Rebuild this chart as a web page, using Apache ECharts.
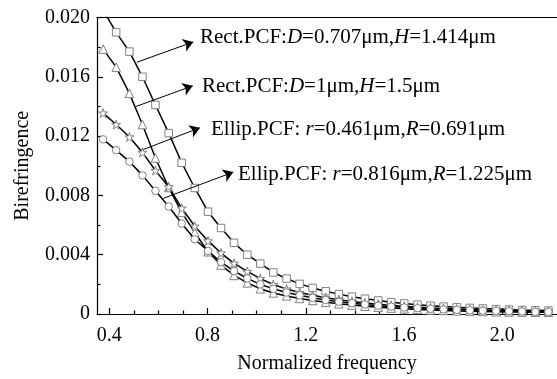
<!DOCTYPE html>
<html>
<head>
<meta charset="utf-8">
<script src="https://cdn.jsdelivr.net/npm/echarts@6/dist/echarts.min.js"></script>
<style>html,body{margin:0;padding:0;background:#fff;}#c{width:557px;height:379px;}</style>
</head>
<body>
<div id="c"></div>
<script>
const xValues = [0.375, 0.428, 0.482, 0.535, 0.588, 0.642, 0.695, 0.748, 0.802, 0.855, 0.908, 0.962, 1.015, 1.068, 1.122, 1.175, 1.228, 1.281, 1.335, 1.388, 1.441, 1.495, 1.548, 1.601, 1.655, 1.708, 1.761, 1.815, 1.868, 1.921, 1.975, 2.028, 2.081, 2.135, 2.188];
const rectA = [0.0205, 0.0190, 0.0177, 0.0160, 0.0141, 0.0122, 0.0102, 0.0085, 0.0069, 0.0058, 0.0048, 0.0040, 0.0034, 0.0028, 0.00239, 0.00203, 0.00176, 0.00154, 0.00134, 0.00117, 0.00103, 0.00091, 0.00080, 0.00071, 0.00063, 0.00056, 0.00050, 0.00045, 0.00041, 0.00037, 0.00033, 0.00030, 0.00027, 0.00025, 0.00023];
const rectB = [0.01787, 0.01665, 0.01488, 0.01278, 0.01052, 0.00853, 0.00685, 0.0055, 0.0042, 0.0033, 0.0026, 0.0021, 0.0017, 0.00142, 0.00122, 0.00105, 0.00091, 0.00079, 0.00069, 0.0006, 0.00052, 0.00046, 0.0004, 0.00035, 0.00031, 0.00027, 0.00024, 0.00021, 0.00019, 0.00017, 0.00015, 0.00014, 0.00013, 0.00012, 0.00011];
const ellipA = [0.01355, 0.01278, 0.01194, 0.0109, 0.00968, 0.00858, 0.00714, 0.00592, 0.00493, 0.00411, 0.00342, 0.00287, 0.00239, 0.00199, 0.00168, 0.00145, 0.00126, 0.0011, 0.00096, 0.00085, 0.00075, 0.00066, 0.00058, 0.00052, 0.00046, 0.00041, 0.00037, 0.00033, 0.0003, 0.00027, 0.00025, 0.00023, 0.00021, 0.00019, 0.00017];
const ellipB = [0.01178, 0.01105, 0.01028, 0.00935, 0.00831, 0.00725, 0.0061, 0.00504, 0.00425, 0.0035, 0.0029, 0.0024, 0.002, 0.0017, 0.00145, 0.00126, 0.00109, 0.00095, 0.00083, 0.00073, 0.00064, 0.00056, 0.0005, 0.00044, 0.00039, 0.00035, 0.00031, 0.00028, 0.00025, 0.00023, 0.00021, 0.00019, 0.00017, 0.00015, 0.00014];
const xMajorTicks = [0.4, 0.8, 1.2, 1.6, 2.0];
const xMinorTicks = [0.5, 0.6, 0.7, 0.9, 1.0, 1.1, 1.3, 1.4, 1.5, 1.7, 1.8, 1.9, 2.1, 2.2];
const seriesNames = ['Rect.PCF:D=0.707μm,H=1.414μm', 'Rect.PCF:D=1μm,H=1.5μm', 'Ellip.PCF: r=0.461μm,R=0.691μm', 'Ellip.PCF: r=0.816μm,R=1.225μm'];
const annotationTexts = [
  '{n|Rect.PCF:}{i|D}{n|=0.707μm,}{i|H}{n|=1.414μm}',
  '{n|Rect.PCF:}{i|D}{n|=1μm,}{i|H}{n|=1.5μm}',
  '{n|Ellip.PCF: }{i|r}{n|=0.461μm,}{i|R}{n|=0.691μm}',
  '{n|Ellip.PCF: }{i|r}{n|=0.816μm,}{i|R}{n|=1.225μm}'
];
// arrows: [start, end] in data coordinates
const arrows = [
  [[0.512, 0.01698], [0.742, 0.01835]],
  [[0.509, 0.01400], [0.740, 0.01539]],
  [[0.525, 0.01101], [0.769, 0.01256]],
  [[0.620, 0.00780], [0.905, 0.00957]]
];

const FONT = 'Liberation Serif, Times New Roman, serif';
const STAR = 'path://M50,2 L61,36 L97,36 L68,57 L79,92 L50,71 L21,92 L32,57 L3,36 L39,36 Z';
const symbols = ['rect', 'triangle', STAR, 'circle'];
const symSizes = [7.5, 8.5, 9, 7.5];
const datasets = [rectA, rectB, ellipA, ellipB];

const chart = echarts.init(document.getElementById('c'), null, {renderer: 'canvas'});
const rich = {
  n: {fontFamily: FONT, fontSize: 21, fill: '#000'},
  i: {fontFamily: FONT, fontSize: 21, fontStyle: 'italic', fill: '#000'}
};
const textPos = [[200, 38], [202, 87], [211, 130], [238, 175]];

const series = datasets.map((d, si) => ({
  name: seriesNames[si],
  type: 'line',
  data: d.map((v, i) => [xValues[i], v]),
  symbol: symbols[si],
  symbolSize: symSizes[si],
  showAllSymbol: true,
  lineStyle: {color: '#000', width: 1.5},
  itemStyle: {color: '#fff', borderColor: '#808080', borderWidth: 1},
  z: 3 + si,
  clip: true
}));
series.push({
  type: 'line',
  data: [],
  silent: true,
  markLine: {
    silent: true,
    symbol: ['none', 'arrow'],
    symbolSize: 10,
    label: {show: false},
    lineStyle: {color: '#000', width: 1, type: 'solid'},
    emphasis: {disabled: true},
    data: arrows.map(a => [{coord: a[0]}, {coord: a[1]}])
  },
  z: 10
});

chart.setOption({
  animation: false,
  backgroundColor: '#fff',
  grid: {left: 97, right: 0, top: 17.5, bottom: 60, containLabel: false},
  xAxis: [
    {
      type: 'value', min: 0.35, max: 2.223, position: 'bottom',
      name: 'Normalized frequency', nameLocation: 'middle', nameGap: 40,
      nameTextStyle: {fontFamily: FONT, fontSize: 20, color: '#000'},
      axisLine: {show: true, onZero: false, lineStyle: {color: '#000', width: 1.2}},
      axisTick: {show: true, inside: true, length: 6, customValues: xMajorTicks, lineStyle: {color: '#000', width: 1.2}},
      axisLabel: {show: true, customValues: xMajorTicks, margin: 12, fontFamily: FONT, fontSize: 20, color: '#000', formatter: v => v.toFixed(1)},
      splitLine: {show: false}
    },
    {
      type: 'value', min: 0.35, max: 2.223, position: 'bottom',
      axisLine: {show: false, onZero: false},
      axisTick: {show: true, inside: true, length: 3.5, customValues: xMinorTicks, lineStyle: {color: '#000', width: 1.2}},
      axisLabel: {show: false},
      splitLine: {show: false}
    },
    {
      type: 'value', min: 0.35, max: 2.223, position: 'top',
      axisLine: {show: true, onZero: false, lineStyle: {color: '#000', width: 1.2}},
      axisTick: {show: false}, axisLabel: {show: false}, splitLine: {show: false}
    }
  ],
  yAxis: [{
    type: 'value', min: 0, max: 0.020, interval: 0.004,
    name: 'Birefringence', nameLocation: 'middle', nameGap: 64, nameRotate: 90,
    nameTextStyle: {fontFamily: FONT, fontSize: 20, color: '#000'},
    axisLine: {show: true, onZero: false, lineStyle: {color: '#000', width: 1.2}},
    axisTick: {show: true, inside: true, length: 6, lineStyle: {color: '#000', width: 1.2}},
    minorTick: {show: true, splitNumber: 2, length: 3.5, lineStyle: {color: '#000', width: 1.2}},
    axisLabel: {margin: 7, fontFamily: FONT, fontSize: 20, color: '#000', formatter: v => v === 0 ? '0' : v.toFixed(3)},
    splitLine: {show: false}, minorSplitLine: {show: false}
  }],
  series: series,
  graphic: annotationTexts.map((t, i) => ({
    type: 'text', left: textPos[i][0], top: textPos[i][1] - 11, z: 100, silent: true,
    style: {text: t, rich: rich, fill: '#000'}
  }))
});
</script>
</body>
</html>
